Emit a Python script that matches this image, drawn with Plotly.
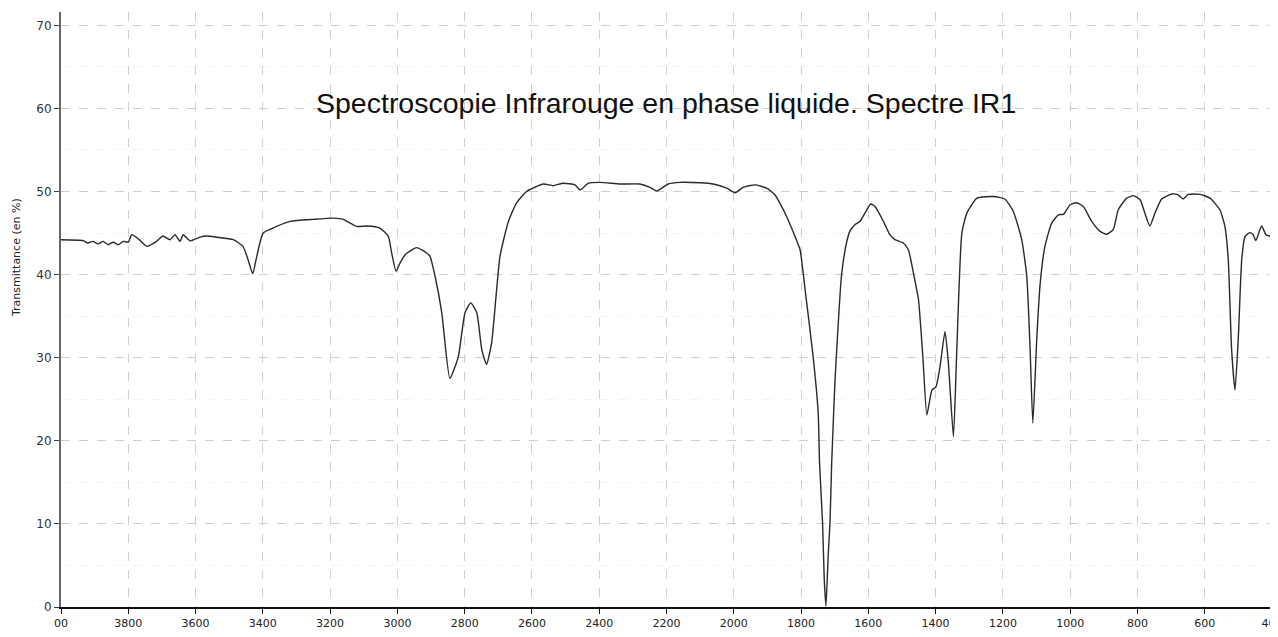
import plotly.graph_objects as go

# Wavenumber (cm-1) and transmittance (%)
wavenumber = [4000, 3935, 3920, 3905, 3890, 3875, 3860, 3845, 3830, 3815, 3800, 3790, 3770, 3745,
              3716, 3697, 3676, 3661, 3646, 3637, 3616, 3587, 3567, 3537, 3488, 3459, 3444, 3430,
              3418, 3399, 3359, 3319, 3250, 3191, 3161, 3121, 3091, 3052, 3027, 3017, 3004, 2992,
              2977, 2943, 2913, 2903, 2888, 2868, 2844, 2819, 2799, 2782, 2764, 2749, 2735, 2720,
              2695, 2670, 2646, 2616, 2566, 2537, 2507, 2472, 2457, 2432, 2398, 2338, 2279, 2249,
              2229, 2195, 2160, 2100, 2061, 2021, 1996, 1972, 1937, 1902, 1878, 1863, 1843, 1818,
              1803, 1788, 1764, 1749, 1745, 1736, 1731, 1726, 1719, 1714, 1709, 1699, 1694, 1680,
              1665, 1655, 1640, 1625, 1610, 1593, 1580, 1555, 1536, 1521, 1496, 1481, 1466, 1451,
              1438, 1426, 1411, 1399, 1387, 1372, 1362, 1347, 1337, 1322, 1307, 1277, 1228, 1194,
              1169, 1144, 1129, 1119, 1111, 1099, 1089, 1075, 1055, 1035, 1020, 1000, 981, 961,
              936, 911, 892, 872, 857, 832, 812, 792, 778, 763, 748, 728, 698, 679, 664, 649, 614,
              584, 555, 540, 530, 520, 510, 500, 490, 480, 466, 456, 448, 431, 418, 408, 400]
transmittance = [44.2, 44.1, 43.8, 44.0, 43.7, 44.0, 43.6, 43.9, 43.6, 44.0, 43.9, 44.8, 44.3, 43.4,
                 44.0, 44.65, 44.2, 44.8, 44.0, 44.8, 44.05, 44.5, 44.65, 44.5, 44.2, 43.4, 41.8, 40.1,
                 42.2, 45.0, 45.8, 46.4, 46.65, 46.8, 46.65, 45.8, 45.85, 45.6, 44.6, 42.6, 40.4, 41.4,
                 42.4, 43.25, 42.6, 42.2, 39.8, 35.4, 27.5, 30.1, 35.4, 36.6, 35.4, 30.95, 29.2, 31.75,
                 42.2, 46.4, 48.6, 50.0, 50.9, 50.7, 51.0, 50.8, 50.2, 51.0, 51.1, 50.9, 50.9, 50.5,
                 50.05, 50.9, 51.1, 51.05, 50.9, 50.4, 49.85, 50.5, 50.8, 50.4, 49.6, 48.6, 47.0, 44.6,
                 43.0, 38.2, 30.1, 23.3, 17.3, 10.1, 3.3, 0.1, 6.5, 10.1, 17.3, 27.3, 30.95, 39.8,
                 43.8, 45.2, 46.0, 46.4, 47.4, 48.5, 48.2, 46.4, 44.8, 44.2, 43.8, 43.0, 40.2, 37.0,
                 30.15, 23.1, 26.1, 26.5, 28.9, 33.15, 29.35, 20.5, 30.95, 45.0, 47.4, 49.2, 49.4, 49.1,
                 47.6, 44.2, 39.8, 30.95, 22.1, 32.5, 39.0, 43.4, 46.2, 47.2, 47.25, 48.4, 48.65, 48.2,
                 46.4, 45.2, 44.85, 45.4, 47.8, 49.2, 49.5, 49.0, 47.4, 45.85, 47.4, 49.1, 49.7, 49.6,
                 49.1, 49.65, 49.65, 49.2, 47.8, 45.8, 41.8, 30.95, 26.1, 32.5, 41.8, 44.6, 45.05, 44.8,
                 44.1, 45.85, 44.8, 44.65, 44.35]

x_ticks = [4000, 3800, 3600, 3400, 3200, 3000, 2800, 2600, 2400, 2200, 2000, 1800, 1600,
           1400, 1200, 1000, 800, 600, 400]
x_tick_text = ["00", "3800", "3600", "3400", "3200", "3000", "2800", "2600", "2400", "2200",
               "2000", "1800", "1600", "1400", "1200", "1000", "800", "600", "400"]
y_ticks = [0, 10, 20, 30, 40, 50, 60, 70]

title_text = "Spectroscopie Infrarouge en phase liquide. Spectre IR1"
y_title = "Transmittance (en %)"

fig = go.Figure()
fig.add_trace(go.Scatter(x=wavenumber, y=transmittance, mode="lines",
                         line=dict(color="#2a2a2a", width=1.4, shape="spline", smoothing=0.5),
                         showlegend=False, hoverinfo="skip", cliponaxis=True))

fig.update_layout(
    width=1270, height=621,
    margin=dict(l=53, r=6, t=4, b=22, autoexpand=False),
    paper_bgcolor="white", plot_bgcolor="white",
    font=dict(family="DejaVu Sans", size=11, color="#333333"),
    xaxis=dict(range=[4000, 400], tickvals=x_ticks, ticktext=x_tick_text, automargin=False,
               ticklabeloverflow="allow",
               showgrid=True, gridcolor="#cfcfcf", griddash="dash", gridwidth=1,
               showline=True, linecolor="#111111", linewidth=1.5,
               ticks="outside", ticklen=5, tickcolor="#111111", zeroline=False,
               tickfont=dict(family="DejaVu Sans", size=11, color="#222222")),
    yaxis=dict(range=[0, 71.6], tickvals=y_ticks, automargin=False,
               showgrid=True, gridcolor="#cfcfcf", griddash="dash", gridwidth=1,
               showline=True, linecolor="#666666", linewidth=2,
               ticks="outside", ticklen=5, tickcolor="#444444", zeroline=False,
               tickfont=dict(family="DejaVu Sans", size=12, color="#333333"),
               minor=dict(dtick=5, showgrid=True, gridcolor="#f4f4f4", gridwidth=1)),
    annotations=[
        dict(text=title_text, xref="paper", yref="paper", x=0.4996, y=0.847,
             xanchor="center", yanchor="middle", showarrow=False,
             font=dict(family="Liberation Sans", size=28.5, color="#111111")),
        dict(text=y_title, xref="paper", yref="paper", x=-0.0372, y=0.588,
             xanchor="center", yanchor="middle", showarrow=False, textangle=-90,
             font=dict(family="DejaVu Sans", size=11, color="#222222")),
    ],
)

fig.write_html("out.html")
